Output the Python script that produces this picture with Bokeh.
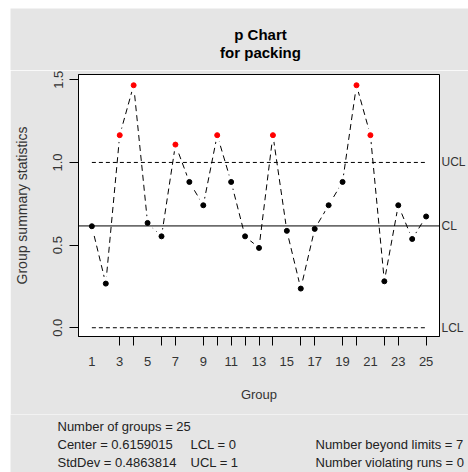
import numpy as np
from bokeh.plotting import figure
from bokeh.layouts import column
from bokeh.models import (Range1d, FixedTicker, Span, Label, LinearAxis,
                          ColumnDataSource, NumeralTickFormatter, CustomJSTickFormatter)
from bokeh.embed import file_html
from bokeh.resources import INLINE

# ---------------- data ----------------
groups = list(range(1, 26))
p_values = [0.614, 0.267, 1.165, 1.467, 0.634, 0.553, 1.108, 0.882, 0.741, 1.165,
            0.882, 0.553, 0.483, 1.165, 0.586, 0.237, 0.598, 0.741, 0.882, 1.467,
            1.165, 0.281, 0.741, 0.537, 0.673]
center = 0.6159015
std_dev = 0.4863814
lcl = 0.0
ucl = 1.0
violating_runs = 0
y_ticks = [0.0, 0.5, 1.0, 1.5]
x_tick_marks = [3, 4, 6, 7, 9, 10, 11, 12, 13, 14, 16, 17, 19, 20, 22, 23, 25]
x_tick_labels = [1, 3, 5, 7, 9, 11, 13, 15, 17, 19, 21, 23, 25]
limit_names = ["LCL", "CL", "UCL"]
title_lines = ["p Chart", "for packing"]
x_label = "Group"
y_label = "Group summary statistics"

beyond = sum(1 for v in p_values if v > ucl or v < lcl)
stats_col1 = [f"Number of groups = {len(groups)}",
              f"Center = {center}",
              f"StdDev = {std_dev}"]
stats_col2 = [f"LCL = {lcl:g}", f"UCL = {ucl:g}"]
stats_col3 = [f"Number beyond limits = {beyond}",
              f"Number violating runs = {violating_runs}"]

# ---------------- styling ----------------
FONT = "Liberation Sans"
BG = "#e5e5e5"
W = 458
X_LO, X_HI = 0.04, 25.96
Y_LO, Y_HI = -0.053, 1.532


def blank_fig(height):
    f = figure(width=W, height=height, output_backend="svg", toolbar_location=None,
               title=None, x_axis_type=None, y_axis_type=None, min_border=0,
               frame_align=False,
               x_range=Range1d(0, W), y_range=Range1d(0, height))
    f.background_fill_color = BG
    f.border_fill_color = BG
    f.outline_line_color = None
    f.grid.visible = False
    return f


# ---------------- title ----------------
top = blank_fig(62)
for txt, yy in zip(title_lines, [36, 18]):
    top.add_layout(Label(x=250, y=yy, text=txt, text_align="center", text_baseline="middle",
                         text_font=FONT, text_font_size="15px", text_font_style="bold",
                         text_color="black"))

# ---------------- main chart ----------------
p = figure(width=W, height=344, output_backend="svg", toolbar_location=None, title=None,
           frame_align=False,
           x_range=Range1d(X_LO, X_HI), y_range=Range1d(Y_LO, Y_HI),
           min_border_left=67, min_border_right=26, min_border_top=4, min_border_bottom=78)
p.border_fill_color = BG
p.background_fill_color = "white"
p.outline_line_color = "black"
p.outline_line_width = 1
p.grid.visible = False

# x axis A: tick marks only
xa = p.xaxis[0]
xa.ticker = FixedTicker(ticks=x_tick_marks)
xa.formatter = CustomJSTickFormatter(code="return ''")
xa.major_label_text_font_size = "0px"
xa.major_label_standoff = 0
xa.major_tick_in = 0
xa.major_tick_out = 9
xa.minor_tick_line_color = None
xa.axis_line_color = "black"
xa.major_tick_line_color = "black"

# x axis B: labels
xb = LinearAxis(ticker=FixedTicker(ticks=x_tick_labels),
                major_tick_in=0, major_tick_out=0,
                major_tick_line_color=None, minor_tick_line_color=None, axis_line_color=None,
                major_label_standoff=11, major_label_text_font=FONT,
                major_label_text_font_size="13px", major_label_text_color="#333333",
                axis_label=x_label, axis_label_text_font=FONT,
                axis_label_text_font_size="13px", axis_label_text_font_style="normal",
                axis_label_text_color="#333333", axis_label_standoff=18)
p.add_layout(xb, "below")

ya = p.yaxis[0]
ya.ticker = FixedTicker(ticks=y_ticks)
ya.formatter = NumeralTickFormatter(format="0.0")
ya.major_label_orientation = "vertical"
ya.major_tick_in = 0
ya.major_tick_out = 9
ya.minor_tick_line_color = None
ya.axis_line_color = "black"
ya.major_tick_line_color = "black"
ya.major_label_standoff = 7
ya.major_label_text_font = FONT
ya.major_label_text_font_size = "13px"
ya.major_label_text_color = "#333333"
ya.axis_label = y_label
ya.axis_label_text_font = FONT
ya.axis_label_text_font_size = "14px"
ya.axis_label_text_font_style = "normal"
ya.axis_label_text_color = "#333333"
ya.axis_label_standoff = 21

# right axis: control limit names
ra = LinearAxis(ticker=FixedTicker(ticks=[lcl, center, ucl]),
                formatter=CustomJSTickFormatter(
                    args=dict(vals=[lcl, center, ucl], labs=limit_names),
                    code="const i = vals.findIndex(v => Math.abs(v - tick) < 1e-6);"
                         "return i < 0 ? '' : labs[i];"),
                major_tick_in=0, major_tick_out=0,
                major_tick_line_color=None, minor_tick_line_color=None, axis_line_color=None,
                major_label_standoff=2, major_label_text_font=FONT,
                major_label_text_font_size="12px", major_label_text_color="#333333")
p.add_layout(ra, "right")

colors = ["red" if (v > ucl or v < lcl) else "black" for v in p_values]
src = ColumnDataSource(dict(x=groups, y=p_values, c=colors))

p.line("x", "y", source=src, line_color="black", line_width=1, line_dash="6 4")
# gaps around the points (type = "b")
p.scatter("x", "y", source=src, size=14, fill_color="white", line_color=None)
p.scatter("x", "y", source=src, size=5, fill_color="c", line_color="c")

p.line([groups[0], groups[-1]], [ucl, ucl], line_color="black", line_width=1, line_dash="4 3")
p.line([groups[0], groups[-1]], [lcl, lcl], line_color="black", line_width=1, line_dash="4 3")
p.add_layout(Span(location=center, dimension="width", line_color="black", line_width=1))

# ---------------- statistics ----------------
bot = blank_fig(58)
rows_y = [46, 28, 10]
for txt, yy in zip(stats_col1, rows_y):
    bot.add_layout(Label(x=47, y=yy, text=txt, text_align="left", text_baseline="middle",
                         text_font=FONT, text_font_size="13px", text_color="#222222"))
for txt, yy in zip(stats_col2, rows_y[1:]):
    bot.add_layout(Label(x=180, y=yy, text=txt, text_align="left", text_baseline="middle",
                         text_font=FONT, text_font_size="13px", text_color="#222222"))
for txt, yy in zip(stats_col3, rows_y[1:]):
    bot.add_layout(Label(x=305, y=yy, text=txt, text_align="left", text_baseline="middle",
                         text_font=FONT, text_font_size="13px", text_color="#222222"))

layout = column(top, p, bot, spacing=0, margin=(8, 0, 0, 10))

open("out.html", "w").write(file_html(layout, INLINE))
